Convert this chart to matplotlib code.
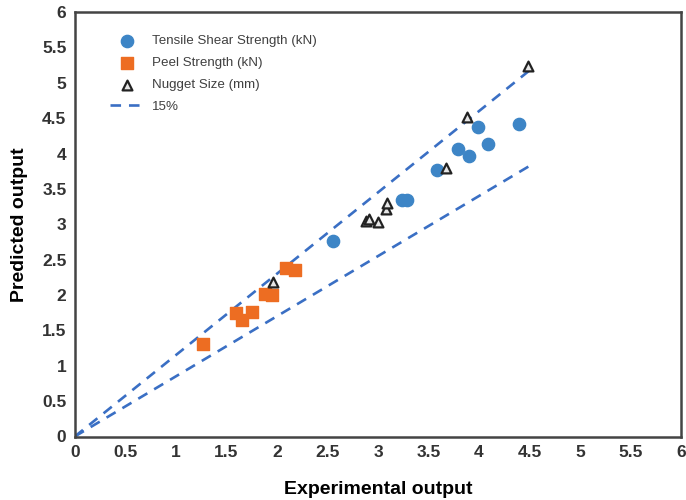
import numpy as np
import matplotlib.pyplot as plt

plt.rcParams["font.family"] = ["Liberation Sans", "DejaVu Sans"]

# tensile shear strength (kN)
tss_exp = [2.55, 3.24, 3.29, 3.58, 3.79, 3.90, 3.99, 4.09, 4.40]
tss_pred = [2.76, 3.34, 3.34, 3.76, 4.07, 3.97, 4.38, 4.13, 4.41]

# peel strength (kN)
peel_exp = [1.27, 1.60, 1.65, 1.75, 1.88, 1.95, 2.09, 2.18]
peel_pred = [1.31, 1.75, 1.65, 1.76, 2.01, 2.00, 2.38, 2.35]

# nugget size (mm)
nug_exp = [1.96, 2.88, 2.91, 3.00, 3.08, 3.09, 3.67, 3.88, 4.48]
nug_pred = [2.19, 3.04, 3.08, 3.03, 3.21, 3.30, 3.80, 4.51, 5.23]

# 15% band
band_x = [0, 4.5]
band_hi = [0, 4.5 * 1.15]
band_lo = [0, 4.5 * 0.85]

fig = plt.figure(figsize=(6.86, 5.0), dpi=100)
ax = fig.add_axes([0.109, 0.127, 0.884, 0.849])

ax.scatter(tss_exp, tss_pred, s=78, color="#3d85c6", label="Tensile Shear Strength (kN)", zorder=3)
ax.scatter(peel_exp, peel_pred, s=72, marker="s", color="#ed6d22", label="Peel Strength (kN)", zorder=3)
ax.scatter(nug_exp, nug_pred, s=50, marker="^", facecolor="#e6e6e6", edgecolor="#222222",
           linewidth=1.6, label="Nugget Size (mm)", zorder=4)
ax.plot(band_x, band_hi, ls=(0, (4, 3)), color="#3a6fc4", lw=1.9, label="15%", zorder=2)
ax.plot(band_x, band_lo, ls=(0, (4, 3)), color="#3a6fc4", lw=1.9, zorder=2)

ax.set_xlim(0, 6)
ax.set_ylim(0, 6)
ticks = np.arange(0, 6.01, 0.5)
ax.set_xticks(ticks)
ax.set_yticks(ticks)
ax.set_xticklabels([f"{v:g}" for v in ticks])
ax.set_yticklabels([f"{v:g}" for v in ticks])
ax.tick_params(length=0, labelsize=12.5, pad=6)
for lab in ax.get_xticklabels() + ax.get_yticklabels():
    lab.set_fontweight("bold")
    lab.set_color("#333333")
for side in ax.spines.values():
    side.set_color("#444444")
    side.set_linewidth(1.8)

ax.set_xlabel("Experimental output", fontsize=14, fontweight="bold", labelpad=15)
ax.set_ylabel("Predicted output", fontsize=14, fontweight="bold", labelpad=10)

leg = ax.legend(loc="upper left", bbox_to_anchor=(0.045, 0.965), frameon=False, fontsize=9.6,
                handlelength=2.6, handletextpad=0.55, labelspacing=0.72, borderaxespad=0.2)
for t in leg.get_texts():
    t.set_color("#404040")

fig.savefig("out.png", dpi=100)
